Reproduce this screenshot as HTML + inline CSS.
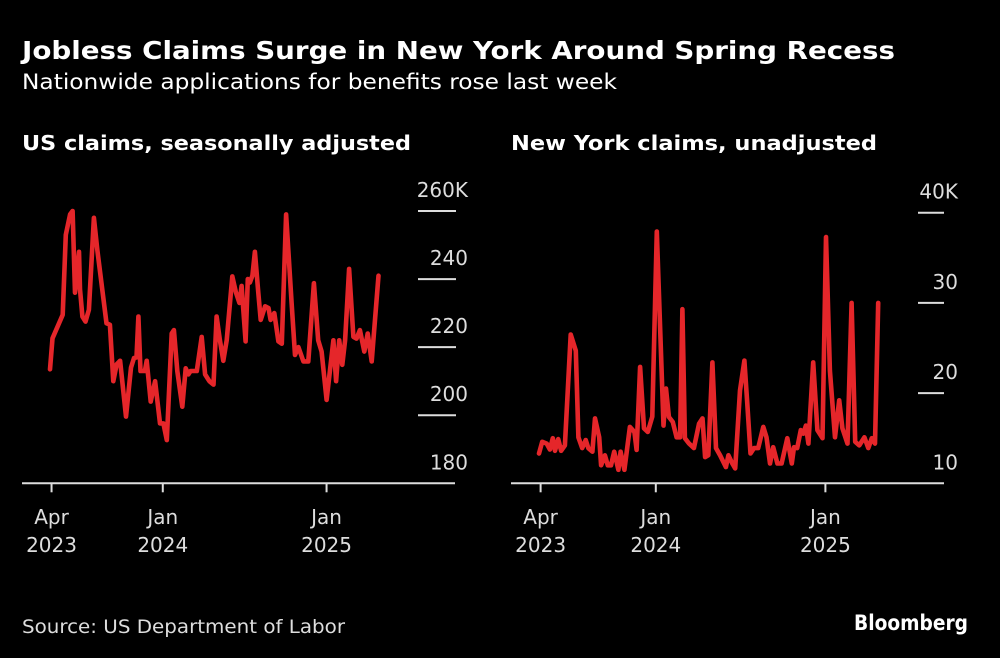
<!DOCTYPE html>
<html><head><meta charset="utf-8"><style>
html,body{margin:0;padding:0;background:#000;}
svg{display:block;}
text{font-family:"DejaVu Sans","Liberation Sans",sans-serif;}
</style></head><body>
<svg id="chart" width="1000" height="658" viewBox="0 0 1000 658" xmlns="http://www.w3.org/2000/svg">
<rect width="1000" height="658" fill="#000"/>
<text x="22" y="59" fill="#fff" font-weight="bold" font-size="25" textLength="873" lengthAdjust="spacingAndGlyphs">Jobless Claims Surge in New York Around Spring Recess</text>
<text x="22" y="89" fill="#fff" font-size="21" textLength="595" lengthAdjust="spacingAndGlyphs">Nationwide applications for benefits rose last week</text>
<text x="22" y="150" fill="#fff" font-weight="bold" font-size="20" textLength="389" lengthAdjust="spacingAndGlyphs">US claims, seasonally adjusted</text>
<text x="511" y="150" fill="#fff" font-weight="bold" font-size="20" textLength="366" lengthAdjust="spacingAndGlyphs">New York claims, unadjusted</text>
<g id="left"></g>
<g id="right"></g>
<text x="22" y="633" fill="#ddd" font-size="19" textLength="323" lengthAdjust="spacingAndGlyphs">Source: US Department of Labor</text>
<text x="968" y="630" fill="#fff" font-weight="bold" font-size="21" text-anchor="end" textLength="114" lengthAdjust="spacingAndGlyphs">Bloomberg</text>
</svg>
<script>
const usWeeks=[0,0.8,4.1,5.1,6.5,7.3,8.1,9.4,9.7,10.5,11.5,12.6,14.2,15.3,18.3,19.4,20.5,21.6,22.7,24.6,26.2,27.2,28.0,28.6,29.3,30.7,31.3,32.6,34.0,35.6,36.7,37.8,39.4,40.1,41.2,42.8,43.9,44.8,45.5,47.5,49.1,50.2,51.6,52.9,53.9,55.0,56.1,57.2,59.0,60.2,61.3,62.0,63.3,64.0,64.7,65.5,66.3,67.4,68.2,69.6,70.7,71.4,72.6,73.9,75.0,76.4,78.2,79.3,80.4,82.0,83.6,85.4,86.8,87.9,89.5,91.7,92.6,93.6,94.6,95.5,96.8,98.2,99.2,100.3,101.7,102.8,104.1,106.3];
const usValues=[213.5,222.6,229.5,253,259,260,236,248,237,229,227.5,231,258,248.6,227,226.6,210,215,216,199.6,214,216.8,217,229,213,213,216,204,210,197.6,197.6,192.7,224,225,213,202.5,213.8,212,213,213,223,212,210,209,229,222,216,222,240.8,236,233,238,221.7,240,239,241,248,236,228,232,231.5,228,230,221.7,221,259,233,217.7,220,215.8,215.8,238.8,222,218.7,204.5,222,210,222,214.8,222,243,223,222.5,225,218.7,224,215.8,241];
const usTicks=[180,200,220,240,260];
const usTickLabels=["180","200","220","240","260K"];
const nyWeeks=[0,1.0,2.4,3.4,4.3,5.0,6.0,6.9,8.1,9.9,11.5,12.3,13.5,14.6,15.4,16.7,17.5,18.8,19.4,20.6,21.5,22.5,23.5,24.8,25.5,26.7,28.4,29.8,30.5,31.6,32.8,34.0,35.4,36.8,38.9,39.7,40.6,41.8,43.0,44.1,44.8,45.6,46.9,48.4,50.0,51.1,51.9,52.9,54.2,55.3,56.6,58.4,59.2,60.4,61.3,62.8,64.2,65.1,66.1,67.2,68.5,70.1,71.1,72.2,73.2,74.5,75.8,77.6,79.0,79.7,80.7,81.8,82.6,83.4,84.2,85.7,87.0,88.6,89.7,90.9,92.5,93.8,94.8,96.4,97.7,98.8,100.1,101.7,102.9,104.0,105.0,106.0];
const nyValues=[13.3,14.6,14.4,13.75,15,13.6,14.9,13.6,14.2,26.5,24.7,15.1,13.9,14.8,13.9,13.5,17.2,15.1,12,13.1,12,12,13.5,11.5,13.5,11.5,16.25,15.7,13.7,22.9,16.1,15.7,17.4,37.9,16.4,20.5,17.35,16.8,15.1,15.1,29.3,15,14.4,13.9,16.6,17.2,12.9,13.1,23.4,13.9,13.1,11.8,13.1,12.2,11.65,20.3,23.6,18.8,13.3,13.9,13.9,16.25,15.1,12.2,14,12.2,12.2,15,12.2,14,13.9,15.9,15.5,16.4,14.4,23.4,15.9,15,37.3,22.5,15.1,19.2,16.1,14.4,30,14.6,14.2,15.1,13.9,15,14.4,30];
const nyTicks=[10,20,30,40];
const nyTickLabels=["10","20","30","40K"];
const xTickWeeks=[0.5,36.5,89.5];
const xTickMonths=["Apr","Jan","Jan"];
const xTickYears=["2023","2024","2025"];

const NS="http://www.w3.org/2000/svg";
function mk(tag,attrs,parent,txt){const e=document.createElementNS(NS,tag);for(const k in attrs)e.setAttribute(k,attrs[k]);if(txt!==undefined)e.textContent=txt;parent.appendChild(e);return e;}

function panel(g,cfg,weeks,values,ticks,labels){
  const x=w=>cfg.x0+w*cfg.pxw;
  const y=v=>cfg.yBase-(v-cfg.vmin)/(cfg.vmax-cfg.vmin)*(cfg.yBase-cfg.yTop);
  ticks.forEach((t,i)=>{
    if(i>0){const l=mk('line',{x1:cfg.gx1,x2:cfg.gx2,y1:y(t),y2:y(t),stroke:'#ddd','stroke-width':2},g);
      
      }
    const tx=mk('text',{x:cfg.lx,y:y(t)-14,fill:'#ddd','font-size':20,'text-anchor':'end'},g,labels[i]);
    
    
  });
  const ax=mk('line',{x1:cfg.ax1,x2:cfg.ax2,y1:cfg.yBase,y2:cfg.yBase,stroke:'#ddd','stroke-width':2},g);
  
  
  xTickWeeks.forEach((w,i)=>{
    const tk=mk('line',{x1:x(w),x2:x(w),y1:cfg.yBase,y2:cfg.yBase+9,stroke:'#ddd','stroke-width':2},g);
    
    
    const m=mk('text',{x:x(w),y:524,fill:'#ddd','font-size':20,'text-anchor':'middle'},g,xTickMonths[i]);
    
    
    const yr=mk('text',{x:x(w),y:552,fill:'#ddd','font-size':20,'text-anchor':'middle'},g,xTickYears[i]);
    
    
  });
  const d=weeks.map((w,i)=>(i?'L':'M')+x(w).toFixed(1)+' '+y(values[i]).toFixed(1)).join(' ');
  const p=mk('path',{d:d,fill:'none',stroke:'#e5262a','stroke-width':4.6,'stroke-linejoin':'round','stroke-linecap':'round'},g);
  
  
}
panel(document.getElementById('left'),{x0:50,pxw:3.09,yBase:483.3,yTop:211,vmin:180,vmax:260,gx1:418,gx2:456,lx:468,ax1:22,ax2:455,name:'us-claims-line'},usWeeks,usValues,usTicks,usTickLabels);
panel(document.getElementById('right'),{x0:539,pxw:3.2,yBase:483.3,yTop:212.7,vmin:10,vmax:40,gx1:918,gx2:944,lx:958,ax1:511,ax2:944,name:'ny-claims-line'},nyWeeks,nyValues,nyTicks,nyTickLabels);
</script>
</body></html>
